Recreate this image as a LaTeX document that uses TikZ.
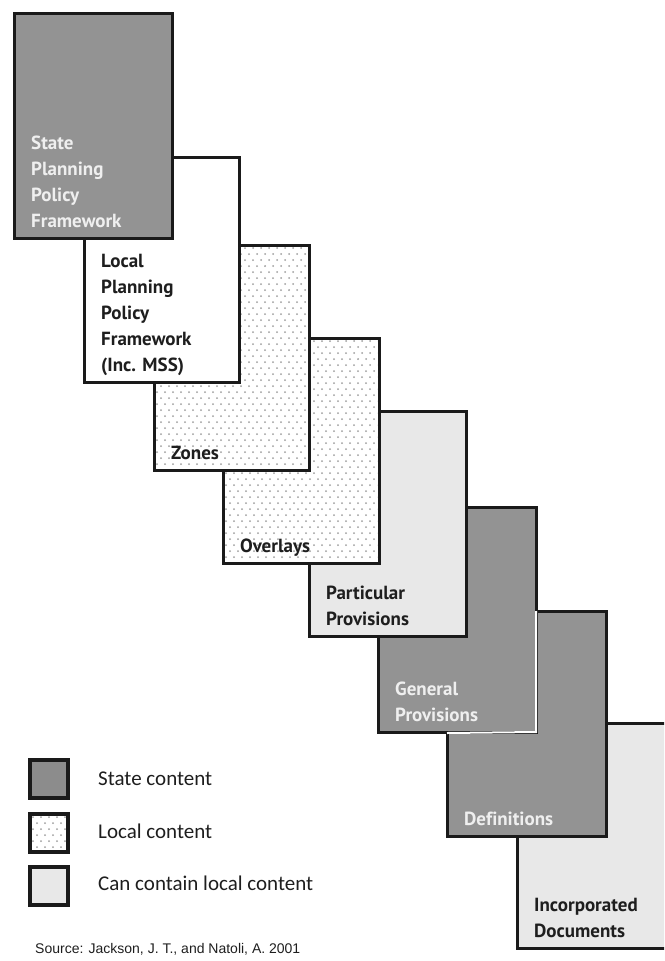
\documentclass[tikz,border=0pt]{standalone}
\usepackage{fontspec}
\newfontfamily\labelfont{PT Sans}[Ligatures=NoCommon]
\newfontfamily\keyfont{Carlito}
\newfontfamily\sourcefont{Liberation Sans}
\definecolor{stategray}{HTML}{939393}
\definecolor{keygray}{HTML}{8C8C8C}
\definecolor{paleg}{HTML}{E8E8E8}
\definecolor{dotgray}{HTML}{9E9E9E}
\definecolor{edge}{HTML}{1A1A1A}
\definecolor{ink}{HTML}{1E1E1E}
\definecolor{lightink}{HTML}{EFEFEF}

% dotted "local content" texture inside a rectangle (x0,y0)-(x1,y1)
\newcommand\dotfield[4]{%
  \begin{scope}
    \clip (#1+1.6,#2+1.6) rectangle (#3-1.6,#4-1.6);
    \foreach \r in {0,...,40}{%
      \foreach \c in {0,...,21}{%
        \fill[dotgray] ({#1+3+8*\c+4*mod(\r,2)},{#2+3+6*\r}) circle (1pt);
      }%
    }%
  \end{scope}}

\tikzset{
  panel/.style={draw=edge, line width=3pt, inner sep=0pt, outer sep=0pt,
    anchor=north west, minimum height=225pt},
  paneltext/.style={anchor=south west, inner sep=0pt, align=left,
    xshift=17pt, yshift=2.2pt,
    font=\labelfont\bfseries\fontsize{19}{26}\selectfont},
  ondark/.style={paneltext, text=lightink},
  onlight/.style={paneltext, text=ink},
  keybox/.style={draw=edge, line width=3.5pt, inner sep=0pt, outer sep=0pt,
    anchor=north west, minimum width=38pt, minimum height=38pt},
  keytext/.style={anchor=base west, inner sep=0pt, text=ink,
    font=\keyfont\fontsize{21}{25}\selectfont},
}

\begin{document}
\begin{tikzpicture}[x=1pt,y=-1pt]
\useasboundingbox (0,0) rectangle (664,961);
\clip (0,0) rectangle (664,961);

% panels are stacked so that each one lies over the next
\node[panel, fill=paleg, minimum width=158pt] (inc) at (517,723) {};
\node[onlight] (incl) at (inc.south west) {Incorporated\\Documents\strut};

\node[panel, fill=stategray, minimum width=159pt] (def) at (447,611) {};
\node[ondark] (defl) at (def.south west) {Definitions\strut};

\node[panel, fill=stategray, minimum width=158pt] (gen) at (378,507) {};
\coordinate (genA) at (536,611);
\coordinate (genB) at (447,733);
\draw[white, line width=2pt] (genA) -- (gen.south east) -- (genB);
\node[ondark] (genl) at (gen.south west) {General\\Provisions\strut};

\node[panel, fill=paleg, minimum width=157pt] (part) at (309,411) {};
\node[onlight] (partl) at (part.south west) {Particular\\Provisions\strut};

\node[panel, fill=white, minimum width=156pt] (ovl) at (223,338) {};
\dotfield{223}{338}{379}{563}
\node[onlight] (ovll) at (ovl.south west) {Overlays\strut};

\node[panel, fill=white, minimum width=155pt] (zon) at (154,245) {};
\dotfield{154}{245}{309}{470}
\node[onlight] (zonl) at (zon.south west) {Zones\strut};

\node[panel, fill=white, minimum width=155pt] (lppf) at (84,157) {};
\node[onlight] (lppfl) at (lppf.south west)
  {Local\\Planning\\Policy\\Framework\\(Inc. MSS)\strut};

\node[panel, fill=stategray, minimum width=158pt] (sppf) at (14,13) {};
\node[ondark] (sppfl) at (sppf.south west)
  {State\\Planning\\Policy\\Framework\strut};

% key
\node[keybox, fill=keygray] (k1) at (30,760) {};
\node[keybox, fill=white] (k2) at (30,814) {};
\dotfield{30}{814}{68}{852}
\node[keybox, fill=paleg] (k3) at (30,867) {};
\node[keytext] (k1l) at (98,785) {State content};
\node[keytext] (k2l) at (98,838) {Local content};
\node[keytext] (k3l) at (98,890) {Can contain local content};

\node[anchor=base west, inner sep=0pt, text=ink,
  font=\sourcefont\fontsize{14}{16}\selectfont] (src) at (35,953)
  {Source: Jackson, J. T., and Natoli, A. 2001};
\end{tikzpicture}
\end{document}
